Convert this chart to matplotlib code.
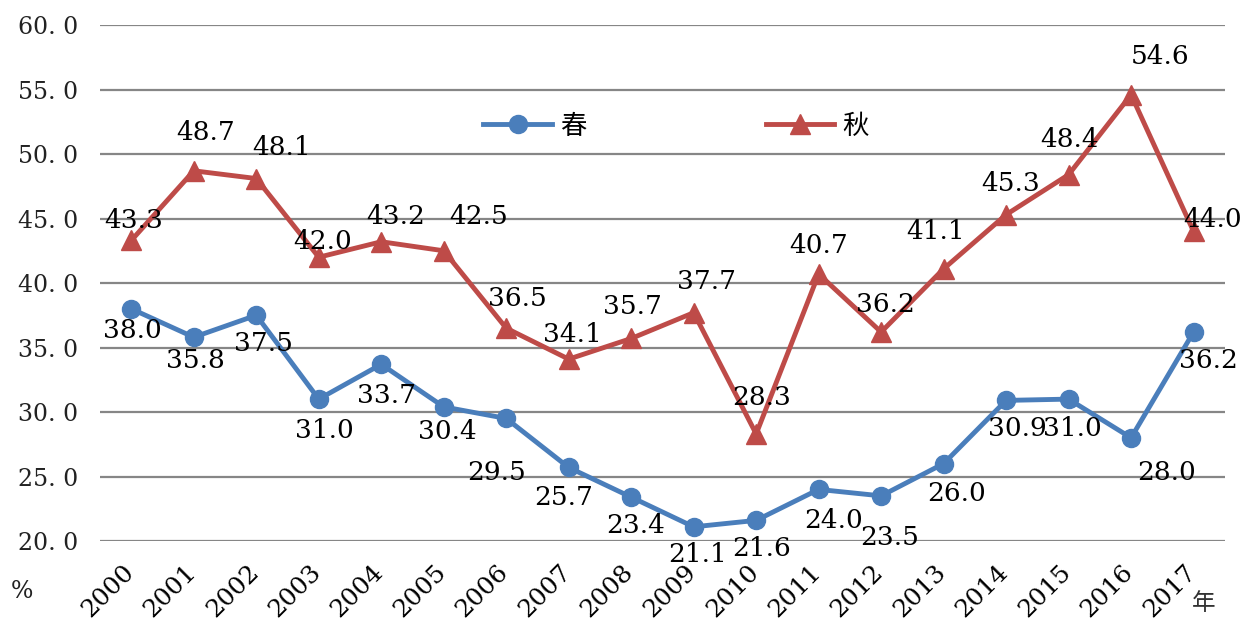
import numpy as np
import matplotlib.pyplot as plt
from matplotlib.transforms import ScaledTranslation

# Données
annees = [str(a) for a in range(2000, 2018)]
printemps = [38.0, 35.8, 37.5, 31.0, 33.7, 30.4, 29.5, 25.7, 23.4, 21.1,
             21.6, 24.0, 23.5, 26.0, 30.9, 31.0, 28.0, 36.2]
automne = [43.3, 48.7, 48.1, 42.0, 43.2, 42.5, 36.5, 34.1, 35.7, 37.7,
           28.3, 40.7, 36.2, 41.1, 45.3, 48.4, 54.6, 44.0]
yticks = [20, 25, 30, 35, 40, 45, 50, 55, 60]

# Décalages des étiquettes (pixels), réglés à l'oeil
dec_aut = [(2, 20), (12, 38), (25, 31), (4, 16), (14, 25), (35, 34), (11, 30),
           (4, 25), (1, 32), (13, 31), (5, 36), (0, 28), (4, 28), (-8, 37),
           (5, 31), (1, 35), (29, 38), (19, 12)]
dec_pri = [(1, -22), (2, -23), (7, -28), (6, -31), (5, -31), (4, -25),
           (-10, -54), (-5, -30), (4, -28), (4, -28), (5, -28), (15, -31),
           (8, -42), (13, -30), (11, -28), (4, -29), (35, -35), (15, -28)]

bleu = '#4A7EBB'
rouge = '#BE4B48'
serif = 'DejaVu Serif'
cjk = ['Noto Sans CJK SC', 'DejaVu Sans']

fig = plt.figure(figsize=(12.46, 6.21), dpi=100)
ax = fig.add_axes([0.0803, 0.1288, 0.9027, 0.8309])

x = np.arange(len(annees))
ax.plot(x, printemps, color=bleu, lw=3.5, marker='o', ms=13, label='春', zorder=3)
ax.plot(x, automne, color=rouge, lw=3.5, marker='^', ms=14, label='秋', zorder=3)

for i in range(len(annees)):
    ax.annotate('{:.1f}'.format(automne[i]), (x[i], automne[i]),
                xytext=dec_aut[i], textcoords='offset pixels',
                ha='center', va='center', fontsize=19, family=serif, color='black', zorder=4)
    ax.annotate('{:.1f}'.format(printemps[i]), (x[i], printemps[i]),
                xytext=dec_pri[i], textcoords='offset pixels',
                ha='center', va='center', fontsize=19, family=serif, color='black', zorder=4)

ax.set_xlim(-0.5, len(annees) - 0.5)
ax.set_ylim(20, 60)
ax.set_yticks(yticks)
ax.set_yticklabels(['{}. 0'.format(v) for v in yticks], family=serif, fontsize=17, color='#222222')
ax.set_xticks(x)
ax.set_xticklabels(annees, rotation=45, ha='right', family=serif, fontsize=18, color='black')
ax.tick_params(axis='both', length=0)
ax.tick_params(axis='y', pad=16)
ax.tick_params(axis='x', pad=14)
decal = ScaledTranslation(7 / 100, 0, fig.dpi_scale_trans)
for lab in ax.get_xticklabels():
    lab.set_transform(lab.get_transform() + decal)
ax.grid(axis='y', color='#868686', lw=1.6)
ax.set_axisbelow(True)
for s in ax.spines.values():
    s.set_visible(False)

fig.text(22 / 1246, 1 - 592 / 621, '%', family=serif, fontsize=17, ha='center', va='center', color='#222222')
fig.text(1204 / 1246, 1 - 603 / 621, '年', family=cjk, fontsize=17, ha='center', va='center', color='#333333')

leg = ax.legend(loc='center', bbox_to_anchor=(676 / 1246, 1 - 126 / 621), bbox_transform=fig.transFigure,
                ncol=2, frameon=False, handlelength=2.6, columnspacing=6.8, handletextpad=0.3,
                prop={'family': cjk, 'size': 19})

fig.savefig('out.png', dpi=100)
